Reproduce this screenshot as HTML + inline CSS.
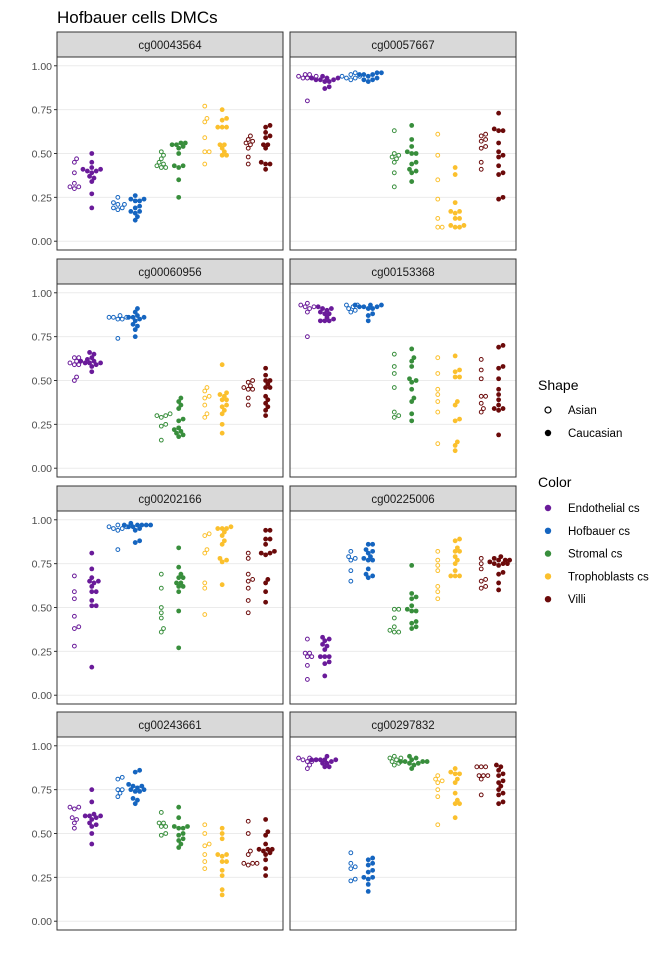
<!DOCTYPE html>
<html><head><meta charset="utf-8">
<style>
html,body{margin:0;padding:0;background:#fff;}
body{width:672px;height:960px;overflow:hidden;font-family:"Liberation Sans",Arial,sans-serif;}
</style></head>
<body>
<svg id="chart" width="672" height="960" xmlns="http://www.w3.org/2000/svg">
<text x="57" y="23" font-size="17" fill="#000">Hofbauer cells DMCs</text>
<g id="panels"></g>
<g id="legend">
<text x="538" y="390" font-size="14" fill="#000">Shape</text>
<circle cx="548" cy="410" r="3" fill="#fff" stroke="#000" stroke-width="1.2"/>
<text x="568" y="414" font-size="11.5" fill="#000">Asian</text>
<circle cx="548" cy="433" r="3.2" fill="#000"/>
<text x="568" y="437" font-size="11.5" fill="#000">Caucasian</text>
<text x="538" y="487" font-size="14" fill="#000">Color</text>
</g>
</svg>
<script>
const categories = ["Endothelial cs","Hofbauer cs","Stromal cs","Trophoblasts cs","Villi"];
const colors = ["#6a1b9a","#1565c0","#388e3c","#fbc02d","#6b0a0a"];
const probes = ["cg00043564","cg00057667","cg00060956","cg00153368","cg00202166","cg00225006","cg00243661","cg00297832"];
const yTicks = [0,0.25,0.5,0.75,1];
const yTickLabels = ["0.00","0.25","0.50","0.75","1.00"];

const cg00043564_asian = [[0.47,0.45,0.39,0.33,0.31,0.30,0.31],[0.25,0.22,0.21,0.21,0.19,0.19,0.18],[0.51,0.49,0.47,0.45,0.44,0.43,0.42,0.42],[0.77,0.70,0.68,0.59,0.51,0.51,0.44],[0.60,0.58,0.57,0.56,0.55,0.53,0.48,0.44]];
const cg00043564_cauc = [[0.50,0.45,0.42,0.41,0.41,0.40,0.40,0.39,0.37,0.36,0.34,0.27,0.19],[0.26,0.24,0.24,0.23,0.23,0.20,0.19,0.17,0.17,0.16,0.14,0.12],[0.56,0.56,0.55,0.55,0.54,0.53,0.50,0.43,0.43,0.42,0.35,0.25],[0.75,0.70,0.69,0.65,0.65,0.65,0.55,0.55,0.53,0.51,0.49,0.49],[0.66,0.65,0.62,0.60,0.59,0.55,0.55,0.53,0.45,0.44,0.44,0.41]];
const cg00057667_asian = [[0.95,0.95,0.94,0.94,0.93,0.93,0.93,0.80],[0.96,0.95,0.94,0.94,0.93,0.93,0.92],[0.63,0.50,0.49,0.48,0.47,0.45,0.39,0.31],[0.61,0.49,0.35,0.24,0.13,0.08,0.08],[0.61,0.60,0.58,0.57,0.54,0.53,0.45,0.41]];
const cg00057667_cauc = [[0.94,0.93,0.93,0.93,0.92,0.92,0.92,0.91,0.91,0.88,0.87],[0.96,0.96,0.95,0.95,0.95,0.94,0.93,0.92,0.92,0.91],[0.66,0.58,0.54,0.51,0.50,0.50,0.45,0.44,0.41,0.40,0.39,0.34],[0.42,0.38,0.22,0.17,0.17,0.16,0.13,0.13,0.09,0.09,0.08,0.08],[0.73,0.64,0.63,0.63,0.56,0.51,0.49,0.48,0.43,0.39,0.38,0.25,0.24]];
const cg00060956_asian = [[0.63,0.63,0.61,0.60,0.59,0.59,0.52,0.50],[0.87,0.86,0.86,0.86,0.85,0.85,0.74],[0.31,0.30,0.30,0.29,0.25,0.24,0.16],[0.46,0.44,0.41,0.40,0.36,0.31,0.29],[0.50,0.49,0.47,0.46,0.45,0.45,0.40,0.36]];
const cg00060956_cauc = [[0.66,0.65,0.63,0.62,0.61,0.61,0.60,0.60,0.60,0.59,0.58,0.55],[0.91,0.89,0.87,0.86,0.86,0.86,0.85,0.84,0.82,0.81,0.79,0.75],[0.40,0.38,0.36,0.34,0.28,0.27,0.23,0.22,0.21,0.20,0.19,0.18],[0.59,0.43,0.42,0.41,0.39,0.39,0.36,0.35,0.33,0.31,0.25,0.20],[0.57,0.53,0.50,0.50,0.48,0.46,0.46,0.41,0.39,0.37,0.35,0.33,0.30]];
const cg00153368_asian = [[0.94,0.93,0.92,0.92,0.91,0.89,0.75],[0.93,0.93,0.92,0.91,0.90,0.89],[0.65,0.58,0.54,0.46,0.32,0.30,0.29],[0.63,0.54,0.45,0.42,0.38,0.32,0.14],[0.62,0.56,0.51,0.41,0.41,0.37,0.34,0.32]];
const cg00153368_cauc = [[0.92,0.91,0.91,0.90,0.89,0.88,0.88,0.86,0.85,0.84,0.84,0.84],[0.93,0.93,0.93,0.92,0.92,0.92,0.91,0.91,0.88,0.87,0.84],[0.68,0.63,0.61,0.58,0.51,0.50,0.49,0.45,0.40,0.38,0.31,0.27],[0.64,0.56,0.55,0.52,0.52,0.38,0.36,0.28,0.27,0.15,0.13,0.10],[0.70,0.69,0.58,0.57,0.51,0.45,0.42,0.39,0.36,0.34,0.34,0.33,0.19]];
const cg00202166_asian = [[0.68,0.59,0.55,0.45,0.39,0.38,0.28],[0.97,0.96,0.96,0.95,0.95,0.94,0.83],[0.69,0.61,0.50,0.47,0.44,0.38,0.36],[0.92,0.91,0.83,0.81,0.64,0.61,0.46],[0.81,0.78,0.69,0.66,0.65,0.61,0.54,0.47]];
const cg00202166_cauc = [[0.81,0.72,0.67,0.65,0.65,0.64,0.62,0.59,0.59,0.54,0.51,0.51,0.16],[0.98,0.97,0.97,0.97,0.97,0.97,0.96,0.96,0.95,0.94,0.88,0.87],[0.84,0.73,0.69,0.67,0.67,0.64,0.64,0.62,0.62,0.59,0.48,0.27],[0.96,0.95,0.95,0.95,0.93,0.91,0.88,0.86,0.78,0.77,0.76,0.63],[0.94,0.94,0.89,0.89,0.86,0.82,0.81,0.81,0.80,0.66,0.64,0.59,0.53]];
const cg00225006_asian = [[0.32,0.24,0.24,0.22,0.22,0.17,0.09],[0.82,0.79,0.78,0.77,0.71,0.65],[0.49,0.49,0.44,0.39,0.37,0.36,0.36],[0.82,0.77,0.74,0.71,0.62,0.59,0.55],[0.78,0.75,0.72,0.66,0.65,0.62,0.61]];
const cg00225006_cauc = [[0.33,0.32,0.31,0.29,0.28,0.26,0.22,0.22,0.22,0.19,0.18,0.11],[0.86,0.86,0.83,0.82,0.81,0.79,0.78,0.77,0.77,0.72,0.69,0.68,0.67],[0.74,0.58,0.56,0.55,0.51,0.49,0.48,0.48,0.42,0.41,0.39,0.38],[0.89,0.88,0.84,0.82,0.82,0.79,0.77,0.75,0.71,0.68,0.68,0.68],[0.79,0.78,0.77,0.77,0.77,0.76,0.75,0.75,0.75,0.74,0.70,0.69,0.64,0.60]];
const cg00243661_asian = [[0.65,0.65,0.64,0.59,0.58,0.56,0.53],[0.82,0.81,0.75,0.75,0.73,0.71],[0.62,0.56,0.56,0.54,0.54,0.50,0.49],[0.55,0.50,0.44,0.43,0.38,0.34,0.30],[0.57,0.50,0.40,0.38,0.33,0.33,0.33,0.32]];
const cg00243661_cauc = [[0.75,0.68,0.61,0.60,0.60,0.60,0.59,0.58,0.56,0.55,0.54,0.50,0.44],[0.86,0.85,0.78,0.77,0.77,0.76,0.75,0.75,0.74,0.74,0.70,0.69,0.67],[0.65,0.59,0.54,0.54,0.53,0.53,0.50,0.49,0.47,0.46,0.44,0.42],[0.53,0.50,0.47,0.38,0.38,0.37,0.34,0.34,0.29,0.26,0.18,0.15],[0.58,0.51,0.49,0.44,0.41,0.41,0.41,0.40,0.39,0.38,0.35,0.30,0.26]];
const cg00297832_asian = [[0.93,0.93,0.92,0.92,0.91,0.91,0.89,0.87],[0.39,0.33,0.31,0.30,0.24,0.23],[0.94,0.93,0.93,0.92,0.91,0.90,0.89],[0.83,0.81,0.80,0.79,0.75,0.71,0.55],[0.88,0.88,0.88,0.83,0.83,0.83,0.81,0.72]];
const cg00297832_cauc = [[0.94,0.92,0.92,0.92,0.92,0.92,0.91,0.90,0.90,0.88,0.88],[0.36,0.35,0.33,0.32,0.29,0.28,0.25,0.25,0.24,0.21,0.17],[0.94,0.93,0.92,0.91,0.91,0.91,0.91,0.90,0.90,0.89,0.87],[0.87,0.85,0.84,0.84,0.81,0.79,0.73,0.69,0.67,0.67,0.59],[0.89,0.88,0.86,0.84,0.83,0.80,0.79,0.77,0.75,0.73,0.72,0.68,0.67]];

const asianData = [cg00043564_asian,cg00057667_asian,cg00060956_asian,cg00153368_asian,cg00202166_asian,cg00225006_asian,cg00243661_asian,cg00297832_asian];
const caucData = [cg00043564_cauc,cg00057667_cauc,cg00060956_cauc,cg00153368_cauc,cg00202166_cauc,cg00225006_cauc,cg00243661_cauc,cg00297832_cauc];

const NS = "http://www.w3.org/2000/svg";
function mk(tag, attrs, parent){ const e=document.createElementNS(NS,tag); for(const k in attrs) e.setAttribute(k,attrs[k]); parent.appendChild(e); return e; }

const colX = [57, 290];
const PW = 226;
const rowTop = [32, 259, 486, 712];
const STRIP = 25, PH = 193;
function yScale(top, v){ return top + PH*(1.05 - v)/1.1; }
function xCenter(left, i){ return left + (i + 0.6) * PW / 5.2; }

function swarm(vals, cx, top){
  const d = 4.0;
  const pts = vals.map(v=>({v:v,y:yScale(top,v)})).sort((a,b)=>b.y-a.y);
  const placed = [];
  pts.forEach(p=>{
    let best=null;
    for(let k=0;k<40 && best===null;k++){
      const cands = k===0?[0]:[k*1.1,-k*1.1];
      for(const off of cands){
        const x=cx+off;
        if(placed.every(q=>Math.hypot(q.x-x,q.y-p.y)>=d)){best=x;break;}
      }
    }
    p.x = best===null?cx:best;
    placed.push(p);
  });
  return placed;
}

const root = document.getElementById('panels');
probes.forEach((probe, pi)=>{
  const left = colX[pi%2], rt = rowTop[Math.floor(pi/2)], top = rt + STRIP;
  const g = mk('g',{},root);
  
  
  const strip = mk('rect',{x:left,y:rt,width:PW,height:STRIP,fill:'#d9d9d9',stroke:'#333','stroke-width':1},g);
  
  
  const st = mk('text',{x:left+PW/2,y:rt+17,'text-anchor':'middle','font-size':11.5,fill:'#1a1a1a'},g);
  st.textContent = probe;
  
  
  yTicks.forEach((t,ti)=>{
    const y = yScale(top,t);
    const gl = mk('line',{x1:left,x2:left+PW,y1:y,y2:y,stroke:'#ebebeb','stroke-width':1},g);
    
    
    if(pi%2===0){
      const tk = mk('line',{x1:left-3,x2:left,y1:y,y2:y,stroke:'#333','stroke-width':1},g);
      
      
      const tl = mk('text',{x:left-5,y:y+4,'text-anchor':'end','font-size':10.5,fill:'#4d4d4d'},g);
      tl.textContent = yTickLabels[ti];
      
      
    }
  });
  categories.forEach((cat,ci)=>{
    const c = xCenter(left,ci);
    swarm(asianData[pi][ci], c-8.7, top).forEach(p=>{
      const e = mk('circle',{cx:p.x,cy:p.y,r:1.9,fill:'#fff',stroke:colors[ci],'stroke-width':1},g);
      
      
    });
    swarm(caucData[pi][ci], c+8.7, top).forEach(p=>{
      const e = mk('circle',{cx:p.x,cy:p.y,r:2.4,fill:colors[ci]},g);
      
      
    });
  });
  const border = mk('rect',{x:left,y:top,width:PW,height:PH,fill:'none',stroke:'#333','stroke-width':1},g);
  
  
});

const lg = document.getElementById('legend');
categories.forEach((cat,ci)=>{
  const y = 508 + ci*22.8;
  const k = mk('circle',{cx:548,cy:y,r:3.2,fill:colors[ci]},lg);
  
  
  const t = mk('text',{x:568,y:y+4,'font-size':11.5,fill:'#000'},lg);
  t.textContent = cat;
  
  
});
</script>
</body></html>
